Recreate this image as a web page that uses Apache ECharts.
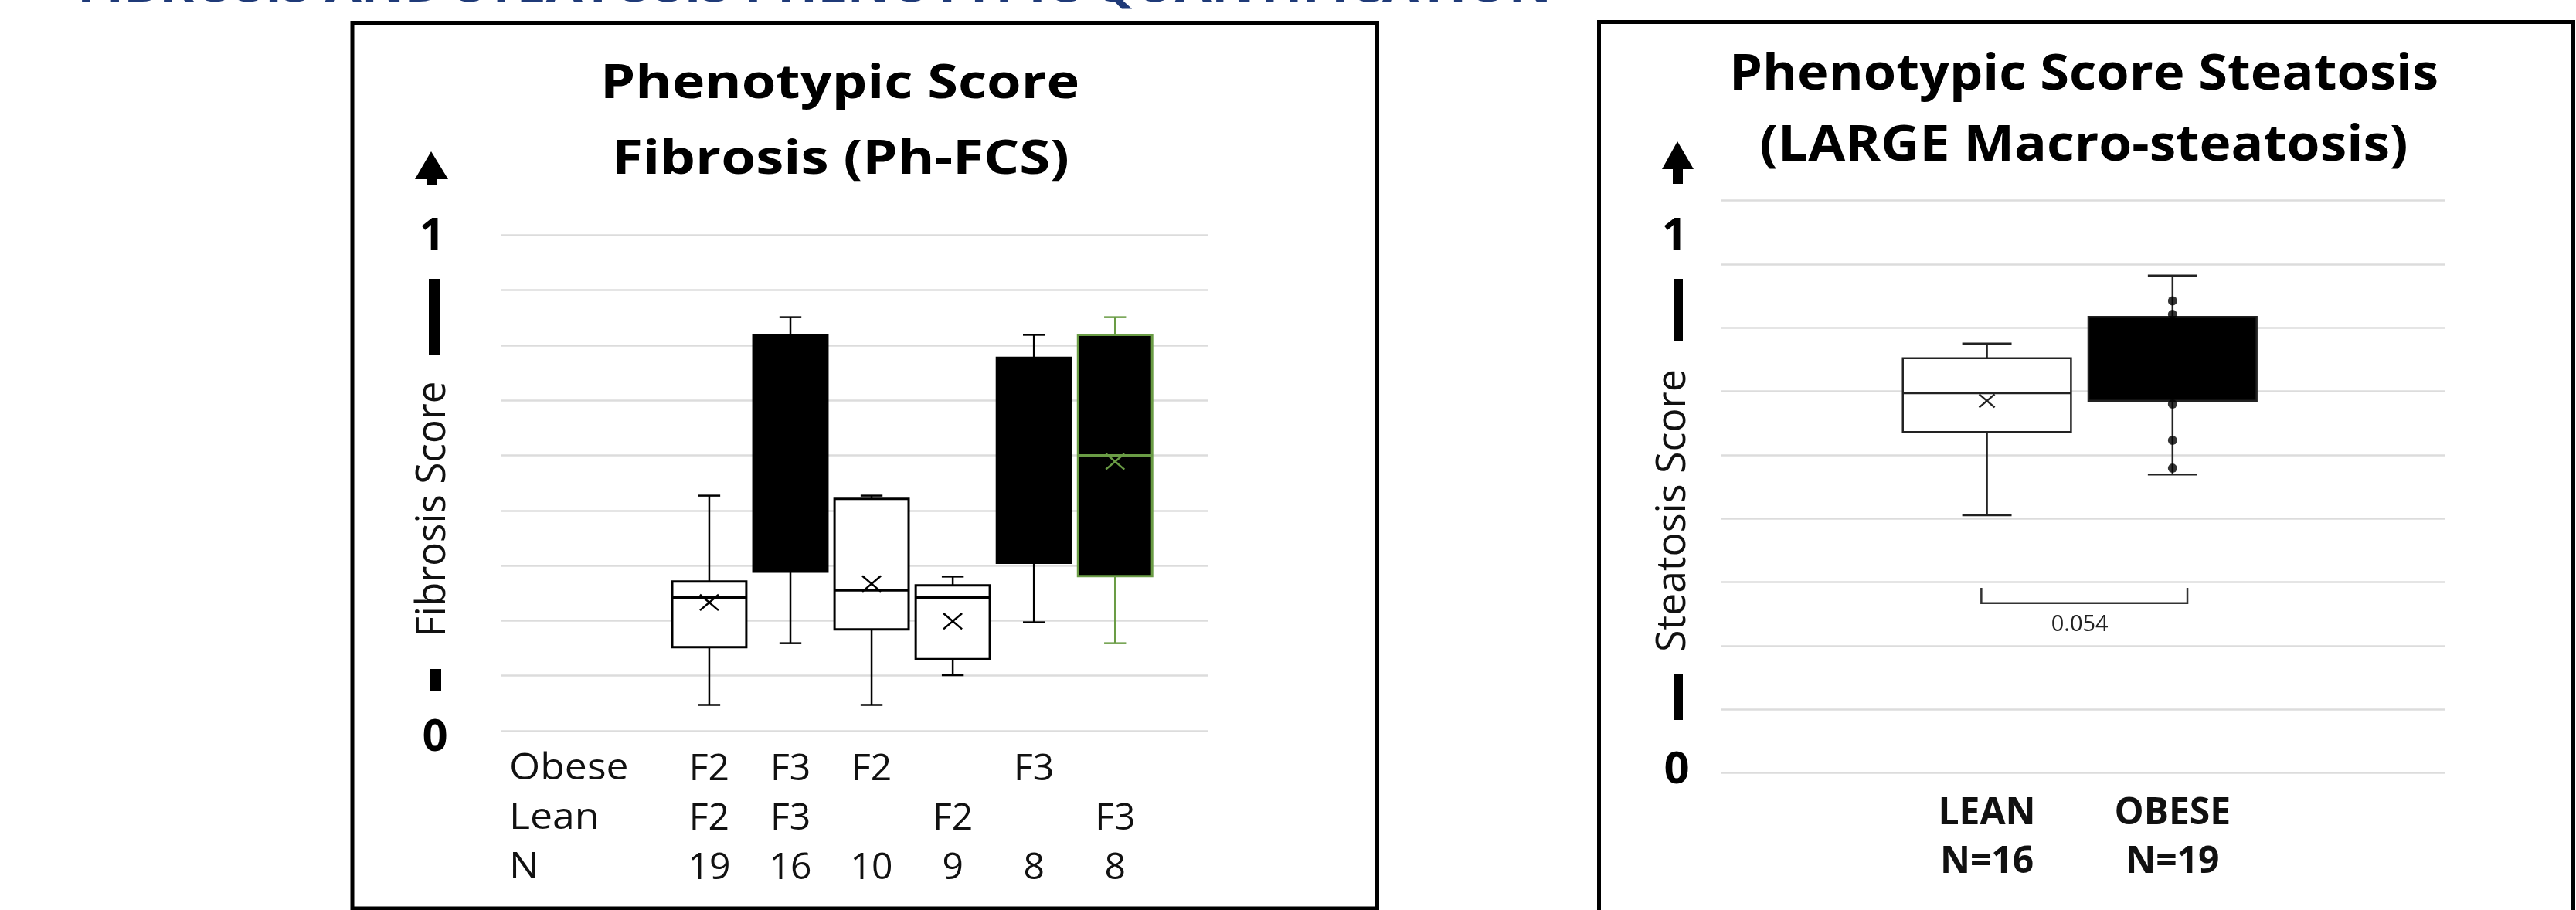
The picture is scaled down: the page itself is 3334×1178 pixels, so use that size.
<!DOCTYPE html>
<html>
<head>
<meta charset="utf-8">
<title>Phenotypic scores - fibrosis and steatosis</title>
<script src="https://cdn.jsdelivr.net/npm/echarts@6/dist/echarts.min.js"></script>
<style>
  html, body { margin: 0; padding: 0; background: #fff; }
  #chart { width: 3334px; height: 1178px; }
</style>
</head>
<body>
<div id="chart"></div>
<script>
// Fibrosis panel (left): one box per Obese/Lean stage group
const fibPositions = [0, 1, 2, 3, 4, 5];
const fibObese = ['F2', 'F3', 'F2', '', 'F3', ''];
const fibLean  = ['F2', 'F3', '', 'F2', '', 'F3'];
const fibN     = ['19', '16', '10', '9', '8', '8'];
const fibLow    = [0.047, 0.159, 0.047, 0.101, 0.197, 0.159];
const fibQ1     = [0.152, 0.289, 0.184, 0.130, 0.305, 0.281];
const fibMedian = [0.242, null, 0.255, 0.242, null, 0.500];
const fibQ3     = [0.271, 0.718, 0.421, 0.264, 0.677, 0.719];
const fibHigh   = [0.427, 0.751, 0.427, 0.280, 0.719, 0.751];
const fibMean   = [0.233, null, 0.267, 0.199, null, 0.489];

// Steatosis panel (right)
const steatPositions = [0, 1];
const steatGroups = ['LEAN', 'OBESE'];
const steatN      = ['16', '19'];
const steatLow    = [0.405, 0.469];
const steatQ1     = [0.536, 0.585];
const steatMedian = [0.597, null];
const steatQ3     = [0.652, 0.717];
const steatHigh   = [0.675, 0.782];
const steatMean   = [0.585, null];
const obesePoints = [0.742, 0.721, 0.580, 0.523, 0.479];
const pValue = '0.054';
const bracketFrom = -0.03, bracketTo = 1.08, bracketBase = 0.267, bracketTip = 0.291;

// styles (kept apart from the values)
const FONT = '"Open Sans", "Noto Sans", sans-serif';
const GREEN = '#6a9c45';
const highlightBox = 5;
const steatFill = ['#ffffff', '#000000'];

const measureCtx = document.createElement('canvas').getContext('2d');
function stretch(text, font, width) {
  measureCtx.font = font;
  return width / measureCtx.measureText(text).width;
}

function boxRenderer(cfg) {
  return function (params, api) {
    const i = params.dataIndex;
    const x = api.value(0);
    const half = api.size([cfg.boxWidth, 0])[0] / 2;
    const capHalf = api.size([cfg.capWidth, 0])[0] / 2;
    const low = api.coord([x, cfg.low[i]]);
    const q1 = api.coord([x, cfg.q1[i]]);
    const q3 = api.coord([x, cfg.q3[i]]);
    const high = api.coord([x, cfg.high[i]]);
    const cx = low[0];
    const stroke = cfg.stroke(i);
    const ls = { stroke: stroke, lineWidth: cfg.whiskerLine };
    const children = [
      { type: 'line', shape: { x1: cx, y1: low[1], x2: cx, y2: high[1] }, style: ls },
      { type: 'line', shape: { x1: cx - capHalf, y1: low[1], x2: cx + capHalf, y2: low[1] }, style: ls },
      { type: 'line', shape: { x1: cx - capHalf, y1: high[1], x2: cx + capHalf, y2: high[1] }, style: ls },
      { type: 'rect', shape: { x: cx - half, y: q3[1], width: half * 2, height: q1[1] - q3[1] },
        style: { fill: cfg.fill(i), stroke: stroke, lineWidth: cfg.boxLine } }
    ];
    if (cfg.median[i] != null) {
      const m = api.coord([x, cfg.median[i]]);
      children.push({ type: 'line', shape: { x1: cx - half, y1: m[1], x2: cx + half, y2: m[1] },
        style: { stroke: stroke, lineWidth: cfg.boxLine } });
    }
    if (cfg.mean[i] != null) {
      const m = api.coord([x, cfg.mean[i]]);
      const s = cfg.meanSize;
      const ms = { stroke: stroke, lineWidth: cfg.whiskerLine };
      children.push({ type: 'line', shape: { x1: cx - s, y1: m[1] - s * 0.85, x2: cx + s, y2: m[1] + s * 0.85 }, style: ms });
      children.push({ type: 'line', shape: { x1: cx - s, y1: m[1] + s * 0.85, x2: cx + s, y2: m[1] - s * 0.85 }, style: ms });
    }
    return { type: 'group', children: children };
  };
}

function renderBracket(params, api) {
  const p1 = api.coord([api.value(0), api.value(3)]);
  const p2 = api.coord([api.value(0), api.value(2)]);
  const p3 = api.coord([api.value(1), api.value(2)]);
  const p4 = api.coord([api.value(1), api.value(3)]);
  return {
    type: 'group',
    children: [
      { type: 'polyline', shape: { points: [p1, p2, p3, p4] }, style: { stroke: '#333', lineWidth: 2.5, fill: null } },
      { type: 'text', x: (p2[0] + p3[0]) / 2 - 6, y: p2[1] + 14,
        style: { text: pValue, fontFamily: FONT, fontSize: 29, fill: '#222', align: 'center', verticalAlign: 'top' } }
    ]
  };
}

const gridLines = { show: true, lineStyle: { color: '#dcdcdc', width: 2.5 } };
const hidden = { show: false };

// decorations: headline, frames, titles, y-axis markers
function titleText(text, cx, cy, size, width) {
  const font = 'bold ' + size + 'px ' + FONT;
  return { type: 'text', x: cx, y: cy, scaleX: stretch(text, font, width),
    style: { text: text, fontFamily: FONT, fontWeight: 'bold', fontSize: size, fill: '#000', align: 'center', verticalAlign: 'middle' } };
}
function axisMarker(name, cx, cy, len) {
  const font = '50px ' + FONT;
  return { type: 'text', x: cx, y: cy, rotation: Math.PI / 2, scaleX: stretch(name, font, len), scaleY: 1.06,
    style: { text: name, fontFamily: FONT, fontSize: 50, fill: '#111', align: 'center', verticalAlign: 'middle' } };
}
function bigDigit(t, cx, cy) {
  return { type: 'text', x: cx, y: cy,
    style: { text: t, fontFamily: FONT, fontWeight: 'bold', fontSize: 58, fill: '#000', align: 'center', verticalAlign: 'middle' } };
}
const headline = 'FIBROSIS AND STEATOSIS PHENOTYPIC QUANTIFICATION';

const graphic = [
  { type: 'text', x: 100, y: -14, scaleX: stretch(headline, 'bold 56px ' + FONT, 1908),
    style: { text: headline, fontFamily: FONT, fontWeight: 'bold', fontSize: 56, fill: '#1f3a78', align: 'left', verticalAlign: 'middle' } },
  { type: 'rect', shape: { x: 456, y: 29.5, width: 1326.5, height: 1146.5 }, style: { fill: null, stroke: '#000', lineWidth: 5 } },
  { type: 'rect', shape: { x: 2069.5, y: 28.5, width: 1261, height: 1200 }, style: { fill: null, stroke: '#000', lineWidth: 5 } },
  titleText('Phenotypic Score', 1087, 110, 60, 620),
  titleText('Fibrosis (Ph-FCS)', 1088, 208, 60, 592),
  titleText('Phenotypic Score Steatosis', 2697, 98, 64, 918),
  titleText('(LARGE Macro-steatosis)', 2697, 190, 64, 839),
  { type: 'polygon', shape: { points: [[558, 196], [580, 232], [566, 232], [566, 239], [552, 239], [552, 232], [537, 232]] }, style: { fill: '#000' } },
  { type: 'polygon', shape: { points: [[2171, 183], [2192, 219], [2178, 219], [2178, 238], [2165, 238], [2165, 219], [2151, 219]] }, style: { fill: '#000' } },
  bigDigit('1', 559, 306),
  bigDigit('0', 563, 955),
  bigDigit('1', 2167, 306),
  bigDigit('0', 2170, 997),
  { type: 'rect', shape: { x: 555, y: 361, width: 15, height: 98 }, style: { fill: '#000' } },
  { type: 'rect', shape: { x: 557, y: 866, width: 14, height: 29 }, style: { fill: '#000' } },
  { type: 'rect', shape: { x: 2166, y: 361, width: 12, height: 81 }, style: { fill: '#000' } },
  { type: 'rect', shape: { x: 2166, y: 873, width: 12, height: 59 }, style: { fill: '#000' } },
  axisMarker('Fibrosis Score', 561, 659, 331),
  axisMarker('Steatosis Score', 2166, 661, 366),
  { type: 'text', x: 659, y: 964, scaleX: 1.1,
    style: { text: 'Obese\nLean\nN', fontFamily: FONT, fontSize: 47, lineHeight: 64, fill: '#111', align: 'left', verticalAlign: 'top' } }
];

const chart = echarts.init(document.getElementById('chart'));
chart.setOption({
  animation: false,
  backgroundColor: '#ffffff',
  grid: [
    { left: 649, top: 304.4, width: 914, height: 641.6, outerBoundsMode: 'none' },
    { left: 2228, top: 259.5, width: 937, height: 741, outerBoundsMode: 'none' }
  ],
  xAxis: [
    { gridIndex: 0, type: 'value', min: -2.56, max: 6.14,
      axisLine: hidden, axisTick: hidden, splitLine: hidden,
      axisLabel: { customValues: fibPositions, margin: 18, fontFamily: FONT, fontSize: 48, lineHeight: 64, color: '#111',
        formatter: v => { const i = Math.round(v); return fibObese[i] + '\n' + fibLean[i] + '\n' + fibN[i]; } } },
    { gridIndex: 1, type: 'value', min: -1.43, max: 2.47,
      axisLine: hidden, axisTick: hidden, splitLine: hidden,
      axisLabel: { customValues: steatPositions, margin: 21, fontFamily: FONT, fontWeight: 'bold', fontSize: 48, lineHeight: 63, color: '#111',
        formatter: v => { const i = Math.round(v); return steatGroups[i] + '\nN=' + steatN[i]; } } }
  ],
  yAxis: [
    { gridIndex: 0, type: 'value', min: 0, max: 0.9, interval: 0.1,
      axisLine: hidden, axisTick: hidden, axisLabel: hidden, splitLine: gridLines },
    { gridIndex: 1, type: 'value', min: 0, max: 0.9, interval: 0.1,
      axisLine: hidden, axisTick: hidden, axisLabel: hidden, splitLine: gridLines }
  ],
  series: [
    {
      name: 'Fibrosis', type: 'custom', xAxisIndex: 0, yAxisIndex: 0, clip: false,
      data: fibPositions.map((p, i) => [p, fibLow[i], fibHigh[i]]),
      encode: { x: 0, y: [1, 2] },
      renderItem: boxRenderer({
        low: fibLow, q1: fibQ1, median: fibMedian, q3: fibQ3, high: fibHigh, mean: fibMean,
        boxWidth: 0.913, capWidth: 0.27, boxLine: 3, whiskerLine: 2.5, meanSize: 12,
        stroke: i => (i === highlightBox ? GREEN : '#000'),
        fill: i => (fibObese[i] === 'F3' || fibLean[i] === 'F3' ? '#000' : '#fff')
      })
    },
    {
      name: 'Steatosis', type: 'custom', xAxisIndex: 1, yAxisIndex: 1, clip: false,
      data: steatPositions.map((p, i) => [p, steatLow[i], steatHigh[i]]),
      encode: { x: 0, y: [1, 2] },
      renderItem: boxRenderer({
        low: steatLow, q1: steatQ1, median: steatMedian, q3: steatQ3, high: steatHigh, mean: steatMean,
        boxWidth: 0.906, capWidth: 0.266, boxLine: 2.5, whiskerLine: 2.5, meanSize: 10,
        stroke: () => '#222',
        fill: i => steatFill[i]
      })
    },
    {
      name: 'Obese points', type: 'scatter', xAxisIndex: 1, yAxisIndex: 1,
      data: obesePoints.map(v => [1, v]),
      symbol: 'circle', symbolSize: 12, itemStyle: { color: '#000' }
    },
    {
      name: 'p-value', type: 'custom', xAxisIndex: 1, yAxisIndex: 1, clip: false,
      data: [[bracketFrom, bracketTo, bracketBase, bracketTip]],
      encode: { x: [0, 1], y: [2, 3] },
      renderItem: renderBracket
    }
  ],
  graphic: graphic
});
</script>
</body>
</html>
